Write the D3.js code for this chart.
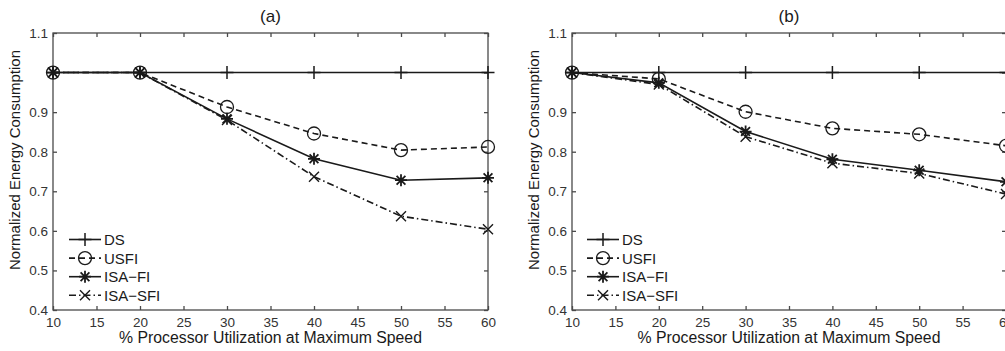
<!DOCTYPE html>
<html>
<head>
<meta charset="utf-8">
<script src="https://cdn.jsdelivr.net/npm/d3@7"></script>
<style>
  body { margin: 0; background: #fff; }
  svg { display: block; font-family: "Liberation Sans", Arial, sans-serif; }
</style>
</head>
<body>
<div id="chart"></div>
<script>
// utilization levels (x) shared by both panels
const utilization = [10, 20, 30, 40, 50, 60];
const xTicks = [10, 15, 20, 25, 30, 35, 40, 45, 50, 55, 60];
const yTicks = [0.4, 0.5, 0.6, 0.7, 0.8, 0.9, 1.0, 1.1];
const yTickLabels = ['0.4', '0.5', '0.6', '0.7', '0.8', '0.9', '', '1.1'];
const seriesNames = ['DS', 'USFI', 'ISA\u2212FI', 'ISA\u2212SFI'];

// panel (a)
const dsA = [1, 1, 1, 1, 1, 1];
const usfiA = [1, 1, 0.913, 0.846, 0.804, 0.812];
const isaFiA = [1, 1, 0.883, 0.782, 0.728, 0.734];
const isaSfiA = [1, 1, 0.880, 0.737, 0.637, 0.604];

// panel (b)
const dsB = [1, 1, 1, 1, 1, 1];
const usfiB = [1, 0.984, 0.901, 0.859, 0.844, 0.815];
const isaFiB = [1, 0.974, 0.851, 0.781, 0.753, 0.724];
const isaSfiB = [1, 0.970, 0.838, 0.771, 0.745, 0.693];

const W = 1005, H = 351;
const svg = d3.select('#chart').append('svg').attr('width', W).attr('height', H);

const ink = '#1a1a1a';
const axisInk = '#4a4a4a';
const styles = [
  { dash: null, marker: 'plus' },
  { dash: '6,4', marker: 'circle' },
  { dash: null, marker: 'star' },
  { dash: '7,3,1.5,3', marker: 'cross' }
];

function drawMarker(g, kind, cx, cy) {
  const s = 6.5;
  if (kind === 'plus') {
    g.append('path').attr('d', `M${cx - s},${cy}H${cx + s}M${cx},${cy - s}V${cy + s}`)
      .attr('stroke', ink).attr('stroke-width', 1.5).attr('fill', 'none');
  } else if (kind === 'circle') {
    g.append('circle').attr('cx', cx).attr('cy', cy).attr('r', 6.5)
      .attr('stroke', ink).attr('stroke-width', 1.3).attr('fill', 'none');
  } else if (kind === 'cross') {
    const d = 5;
    g.append('path').attr('d', `M${cx - d},${cy - d}L${cx + d},${cy + d}M${cx - d},${cy + d}L${cx + d},${cy - d}`)
      .attr('stroke', ink).attr('stroke-width', 1.4).attr('fill', 'none');
  } else if (kind === 'star') {
    const r = 6, d = 4.4;
    g.append('path').attr('d',
      `M${cx - r},${cy}H${cx + r}M${cx},${cy - r}V${cy + r}` +
      `M${cx - d},${cy - d}L${cx + d},${cy + d}M${cx - d},${cy + d}L${cx + d},${cy - d}`)
      .attr('stroke', ink).attr('stroke-width', 1.8).attr('fill', 'none');
  }
}

function drawPanel(left, right, title, series, legendX) {
  const top = 33, bottom = 310;
  const x = d3.scaleLinear().domain([10, 60]).range([left, right]);
  const y = d3.scaleLinear().domain([0.4, 1.1]).range([bottom, top]);
  const g = svg.append('g');

  // frame
  g.append('rect').attr('x', left).attr('y', top)
    .attr('width', right - left).attr('height', bottom - top)
    .attr('fill', 'none').attr('stroke', axisInk).attr('stroke-width', 1.3);

  // axes with inward ticks
  g.append('g').attr('transform', `translate(0,${bottom})`)
    .call(d3.axisBottom(x).tickValues(xTicks).tickSizeInner(-4).tickSizeOuter(0).tickPadding(7));
  g.append('g').attr('transform', `translate(${left},0)`)
    .call(d3.axisLeft(y).tickValues(yTicks).tickFormat((d, i) => yTickLabels[i])
      .tickSizeInner(-4).tickSizeOuter(0).tickPadding(5));
  g.append('g').attr('transform', `translate(0,${top})`)
    .call(d3.axisTop(x).tickValues(xTicks).tickSizeInner(-4).tickSizeOuter(0).tickFormat(''));
  g.append('g').attr('transform', `translate(${right},0)`)
    .call(d3.axisRight(y).tickValues(yTicks).tickSizeInner(-4).tickSizeOuter(0).tickFormat(''));
  g.selectAll('.domain').remove();
  g.selectAll('.tick line').attr('stroke', axisInk).attr('stroke-width', 1.3);
  g.selectAll('.tick text').attr('font-size', 13.5).attr('fill', '#333')
    .style('font-family', '"Liberation Sans", Arial, sans-serif');

  // series
  series.forEach((vals, si) => {
    const st = styles[si];
    const line = d3.line().x((d, i) => x(utilization[i])).y(d => y(d));
    g.append('path').datum(vals).attr('d', line)
      .attr('fill', 'none').attr('stroke', ink).attr('stroke-width', 1.6)
      .attr('stroke-dasharray', st.dash);
    vals.forEach((v, i) => drawMarker(g, st.marker, x(utilization[i]), y(v)));
  });

  // legend
  seriesNames.forEach((name, i) => {
    const ly = 239.5 + i * 18.6;
    const st = styles[i];
    g.append('line').attr('x1', legendX).attr('x2', legendX + 32)
      .attr('y1', ly).attr('y2', ly)
      .attr('stroke', ink).attr('stroke-width', 1.6).attr('stroke-dasharray', st.dash);
    drawMarker(g, st.marker, legendX + 16, ly);
    g.append('text').attr('x', legendX + 35).attr('y', ly + 5.5)
      .attr('font-size', 15).attr('fill', ink).text(name);
  });

  // labels
  g.append('text').attr('x', x(35)).attr('y', 22).attr('text-anchor', 'middle')
    .attr('font-size', 17).attr('fill', ink).text(title);
  g.append('text').attr('x', x(35)).attr('y', 343).attr('text-anchor', 'middle')
    .attr('font-size', 15.8).attr('fill', ink).text('% Processor Utilization at Maximum Speed');
  g.append('text').attr('transform', `translate(${left - 33},160) rotate(-90)`)
    .attr('text-anchor', 'middle').attr('font-size', 15).attr('fill', ink)
    .text('Normalized Energy Consumption');
}

drawPanel(53, 488, '(a)', [dsA, usfiA, isaFiA, isaSfiA], 69);
drawPanel(572, 1006, '(b)', [dsB, usfiB, isaFiB, isaSfiB], 587);
</script>
</body>
</html>
